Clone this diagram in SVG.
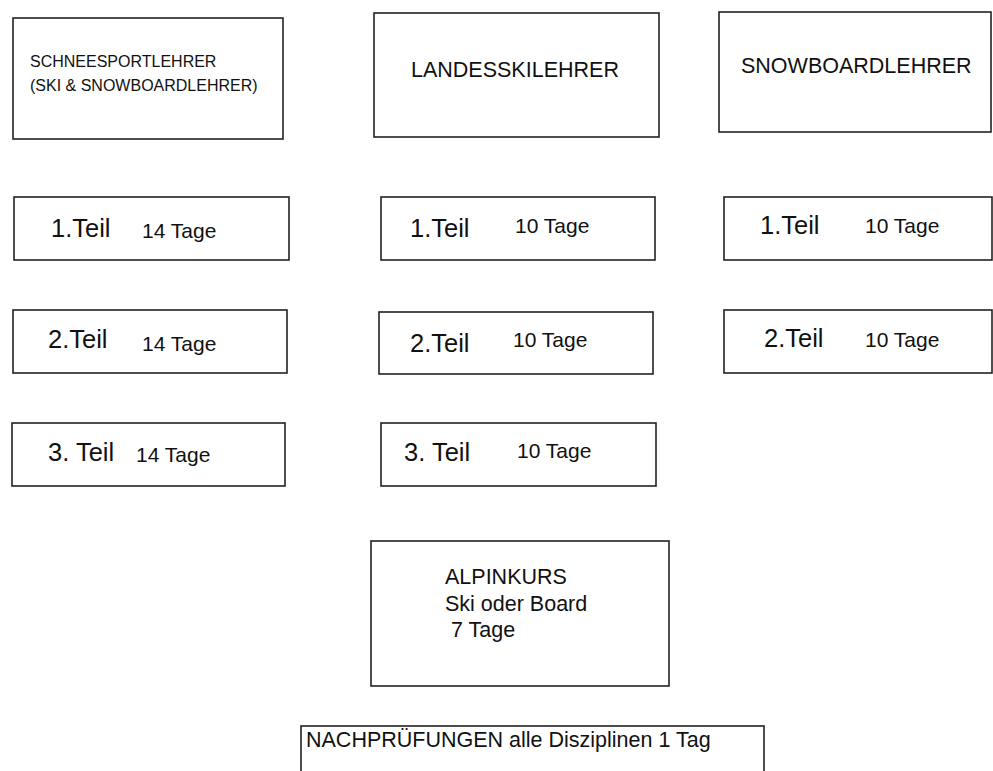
<svg xmlns="http://www.w3.org/2000/svg" width="993" height="771" viewBox="0 0 993 771">
<style>
.box{fill:#fff;stroke:#222;stroke-width:1.6}
text{font-family:"Liberation Sans",Arial,sans-serif;fill:#111}
.t16{font-size:16px}
.t21{font-size:21.5px}
.teil{font-size:25.5px}
.tage{font-size:21px}
</style>
<rect width="993" height="771" fill="#fff"/>
<g id="connectors"/>
<g id="schneesportlehrer">
<rect class="box" x="13" y="18" width="270" height="121"/>
<text class="t16" x="30" y="67">SCHNEESPORTLEHRER</text>
<text class="t16" x="30" y="91">(SKI &amp; SNOWBOARDLEHRER)</text>
</g>
<g id="landesskilehrer">
<rect class="box" x="374" y="13" width="285" height="124"/>
<text class="t21" x="411" y="77">LANDESSKILEHRER</text>
</g>
<g id="snowboardlehrer">
<rect class="box" x="719" y="12" width="272" height="120"/>
<text class="t21" x="741" y="73">SNOWBOARDLEHRER</text>
</g>
<g id="s-teil1">
<rect class="box" x="14" y="197" width="275" height="63"/>
<text class="teil" x="51" y="237">1.Teil</text>
<text class="tage" x="142" y="238">14 Tage</text>
</g>
<g id="s-teil2">
<rect class="box" x="13" y="310" width="274" height="63"/>
<text class="teil" x="48" y="348">2.Teil</text>
<text class="tage" x="142" y="351">14 Tage</text>
</g>
<g id="s-teil3">
<rect class="box" x="12" y="423" width="273" height="63"/>
<text class="teil" x="48" y="461">3. Teil</text>
<text class="tage" x="136" y="462">14 Tage</text>
</g>
<g id="l-teil1">
<rect class="box" x="381" y="197" width="274" height="63"/>
<text class="teil" x="410" y="237">1.Teil</text>
<text class="tage" x="515" y="233">10 Tage</text>
</g>
<g id="l-teil2">
<rect class="box" x="379" y="312" width="274" height="62"/>
<text class="teil" x="410" y="352">2.Teil</text>
<text class="tage" x="513" y="347">10 Tage</text>
</g>
<g id="l-teil3">
<rect class="box" x="381" y="423" width="275" height="63"/>
<text class="teil" x="404" y="461">3. Teil</text>
<text class="tage" x="517" y="458">10 Tage</text>
</g>
<g id="sb-teil1">
<rect class="box" x="724" y="197" width="268" height="63"/>
<text class="teil" x="760" y="234">1.Teil</text>
<text class="tage" x="865" y="233">10 Tage</text>
</g>
<g id="sb-teil2">
<rect class="box" x="724" y="310" width="268" height="63"/>
<text class="teil" x="764" y="347">2.Teil</text>
<text class="tage" x="865" y="347">10 Tage</text>
</g>
<g id="alpinkurs">
<rect class="box" x="371" y="541" width="298" height="145"/>
<text class="t21" x="445" y="584">ALPINKURS</text>
<text class="t21" x="445" y="611">Ski oder Board</text>
<text class="t21" x="445" y="637" xml:space="preserve"> 7 Tage</text>
</g>
<g id="nachpruefungen">
<rect class="box" x="301" y="726" width="463" height="60"/>
<text class="t21" x="306" y="747">NACHPRÜFUNGEN alle Disziplinen 1 Tag</text>
</g>
</svg>
